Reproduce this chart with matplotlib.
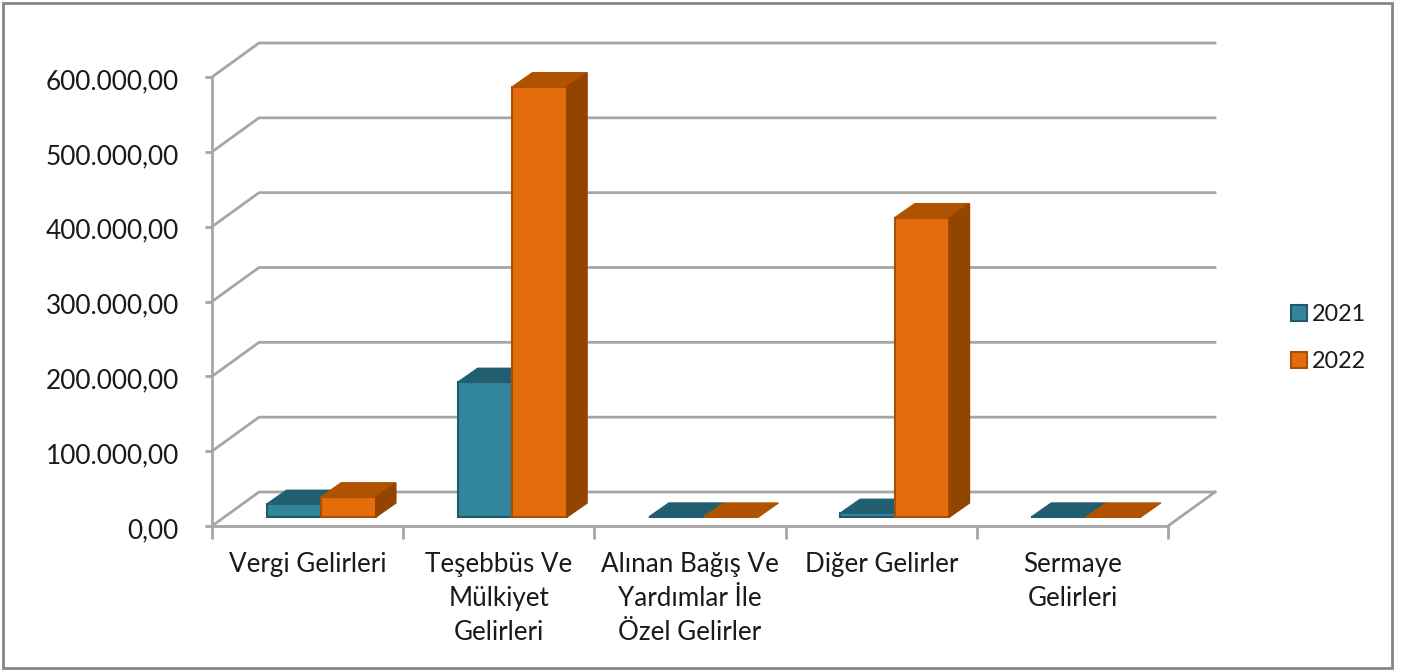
import matplotlib
matplotlib.use('Agg')
import matplotlib.pyplot as plt
from matplotlib.patches import Polygon, Patch, Rectangle
from matplotlib.transforms import ScaledTranslation

categories = ['Vergi Gelirleri', 'Teşebbüs Ve\nMülkiyet\nGelirleri',
              'Alınan Bağış Ve\nYardımlar İle\nÖzel Gelirler',
              'Diğer Gelirler', 'Sermaye\nGelirleri']
values_2021 = [17000, 180000, 0, 5000, 0]
values_2022 = [27000, 575000, 0, 400000, 0]
yticks = [0, 100000, 200000, 300000, 400000, 500000, 600000]
ytick_labels = ['0,00', '100.000,00', '200.000,00', '300.000,00',
                '400.000,00', '500.000,00', '600.000,00']

W, H = 1407, 671
PX_X = 191.2        # pixels per category
PX_Y = 449 / 600000  # pixels per unit

# depth offsets, in data units
wall_dx, wall_dy = 47 / PX_X, 34 / PX_Y
bar_dx, bar_dy = 20 / PX_X, 14 / PX_Y
floor_y = 9 / PX_Y
bar_w = 54.7 / PX_X
bar_off = 54.5 / PX_X

GRID = '#A6A6A6'
TEAL = ('#31859C', '#215F70', '#1F5766', '#215968')
ORANGE = ('#E46C0A', '#B05300', '#934500', '#A84F06')

plt.rcParams['font.family'] = ['Lato', 'DejaVu Sans']
fig = plt.figure(figsize=(W / 100, H / 100), dpi=100)
fig.patches.append(Rectangle((3 / W, 3 / H), 1389 / W, 665 / H, transform=fig.transFigure,
                             fill=False, ec='#868686', lw=2))
ax = fig.add_axes([212 / W, 1 - 526 / H, 956 / W, 449 / H])
ax.set_xlim(0, 5)
ax.set_ylim(0, 600000)
ax.patch.set_visible(False)

# back wall and left side lines
for v in yticks:
    ax.plot([0, wall_dx, 5 + wall_dx], [v, v + wall_dy, v + wall_dy], color=GRID, lw=2,
            clip_on=False, zorder=1)
ax.plot([5, 5 + wall_dx], [0, wall_dy], color=GRID, lw=2, clip_on=False, zorder=1)


def draw_bar(x, v, cols):
    top = floor_y + v
    ax.bar(x, v, bar_w, bottom=floor_y, align='edge', color=cols[0], edgecolor=cols[3],
           lw=1.5, zorder=3, clip_on=False)
    r = x + bar_w
    ax.add_patch(Polygon([(x, top), (x + bar_dx, top + bar_dy), (r + bar_dx, top + bar_dy), (r, top)],
                         fc=cols[1], ec=cols[1], lw=1, zorder=3, clip_on=False))
    if v > 0:
        ax.add_patch(Polygon([(r, floor_y), (r + bar_dx, floor_y + bar_dy), (r + bar_dx, top + bar_dy), (r, top)],
                             fc=cols[2], ec=cols[2], lw=1, zorder=3, clip_on=False))


for i in range(len(categories)):
    draw_bar(i + bar_off, values_2021[i], TEAL)
    draw_bar(i + bar_off + bar_w, values_2022[i], ORANGE)

for s in ['top', 'right']:
    ax.spines[s].set_visible(False)
for s in ['left', 'bottom']:
    ax.spines[s].set_color(GRID)
    ax.spines[s].set_linewidth(2)

ax.set_yticks(yticks)
ax.set_yticklabels(ytick_labels, fontsize=18.9, color='#1a1a1a')
ax.tick_params(axis='y', length=5, width=2, color=GRID, pad=19)
shift = ScaledTranslation(0, -1.5 / 72, fig.dpi_scale_trans)
for lab in ax.get_yticklabels():
    lab.set_transform(lab.get_transform() + shift)

ax.set_xticks(range(6))
ax.set_xticklabels([])
ax.tick_params(axis='x', which='major', length=9, width=2, color=GRID)
ax.set_xticks([i + 0.5 for i in range(5)], minor=True)
ax.set_xticklabels(categories, minor=True, fontsize=18.7, color='#1a1a1a', linespacing=1.45)
ax.tick_params(axis='x', which='minor', length=0, pad=19)

handles = [Patch(fc=TEAL[0], ec=TEAL[3], lw=1.5), Patch(fc=ORANGE[0], ec=ORANGE[3], lw=1.5)]
fig.legend(handles, ['2021', '2022'], frameon=False, fontsize=16.8, loc='center left',
           bbox_to_anchor=(1270 / W, 1 - 338 / H), handlelength=0.7, handleheight=0.7,
           handletextpad=0.2, labelspacing=1.1, labelcolor='#1a1a1a')

fig.savefig('out.png', dpi=100)
